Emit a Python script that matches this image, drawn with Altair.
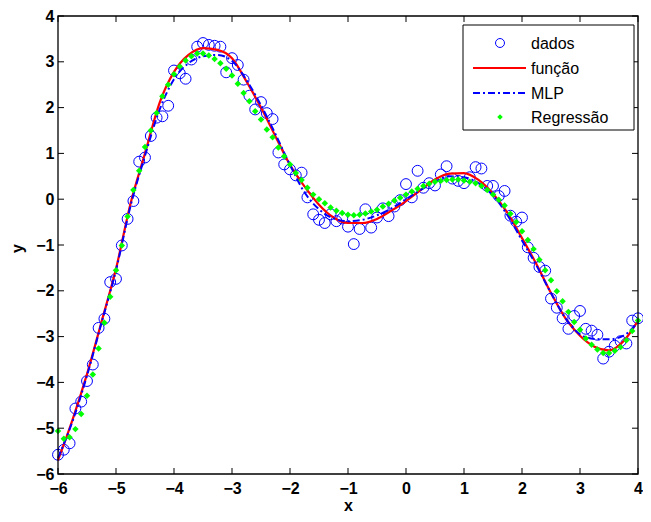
import altair as alt
import pandas as pd

# ---------------- data ----------------
x_grid = [round(-6 + 0.1 * i, 1) for i in range(101)]

y_dados = [
    -5.58, -5.47, -5.33, -4.57, -4.42, -3.97, -3.61, -2.81, -2.61, -1.81,
    -1.74, -1.01, -0.43, -0.04, 0.82, 0.91, 1.38, 1.78, 1.81, 2.04,
    2.81, 2.75, 2.63, 3.05, 3.33, 3.41, 3.37, 3.35, 3.33, 2.77,
    3.08, 2.93, 2.61, 2.26, 1.96, 2.12, 1.88, 1.75, 1.02, 0.76,
    0.65, 0.52, 0.58, 0.04, -0.33, -0.45, -0.52, -0.33, -0.48, -0.42,
    -0.60, -0.98, -0.65, -0.22, -0.62, -0.40, -0.20, -0.37, -0.16, -0.02,
    0.33, 0.04, 0.62, 0.25, 0.35, 0.30, 0.54, 0.72, 0.45, 0.40,
    0.35, 0.48, 0.70, 0.67, 0.29, 0.29, 0.07, 0.18, -0.36, -0.49,
    -0.40, -1.05, -1.28, -1.48, -1.56, -2.17, -2.37, -2.60, -2.83, -2.55,
    -2.44, -2.83, -2.87, -2.96, -3.48, -3.33, -3.20, -3.10, -3.15, -2.65,
    -2.60,
]

y_regressao = [
    -5.06, -5.23, -5.20, -5.02, -4.69, -4.29, -3.83, -3.26, -2.70, -2.13,
    -1.55, -1.01, -0.38, 0.20, 0.62, 1.14, 1.50, 1.88, 2.25, 2.50,
    2.73, 2.90, 3.03, 3.12, 3.18, 3.18, 3.14, 3.06, 2.97, 2.85,
    2.70, 2.52, 2.32, 2.14, 1.92, 1.74, 1.52, 1.35, 1.13, 0.94,
    0.76, 0.57, 0.42, 0.25, 0.10, 0.00, -0.09, -0.18, -0.25, -0.30,
    -0.34, -0.35, -0.34, -0.31, -0.27, -0.23, -0.16, -0.10, -0.03, 0.03,
    0.10, 0.17, 0.23, 0.29, 0.34, 0.38, 0.40, 0.42, 0.43, 0.43,
    0.41, 0.38, 0.35, 0.29, 0.20, 0.10, -0.01, -0.14, -0.32, -0.50,
    -0.70, -0.89, -1.09, -1.32, -1.55, -1.77, -2.01, -2.23, -2.46, -2.68,
    -2.85, -3.04, -3.18, -3.28, -3.36, -3.36, -3.31, -3.23, -3.08, -2.88,
    -2.65,
]

x_curve = [
    -6.0, -5.75, -5.5, -5.25, -5.0, -4.75, -4.5, -4.25, -4.0, -3.75,
    -3.5, -3.25, -3.0, -2.75, -2.5, -2.25, -2.0, -1.75, -1.5, -1.25,
    -1.0, -0.75, -0.5, -0.25, 0.0, 0.25, 0.5, 0.75, 1.0, 1.25,
    1.5, 1.75, 2.0, 2.25, 2.5, 2.75, 3.0, 3.25, 3.5, 3.75,
    4.0,
]

y_funcao = [
    -5.70, -4.82, -3.82, -2.68, -1.52, -0.10, 1.00, 2.10, 2.78, 3.15,
    3.30, 3.26, 3.08, 2.57, 2.00, 1.37, 0.75, 0.28, -0.12, -0.40,
    -0.52, -0.52, -0.43, -0.25, -0.04, 0.20, 0.43, 0.56, 0.57, 0.42,
    0.12, -0.30, -0.85, -1.42, -2.05, -2.60, -2.98, -3.22, -3.30, -3.10,
    -2.65,
]

y_mlp = [
    -5.65, -4.85, -3.85, -2.70, -1.55, -0.15, 0.95, 1.95, 2.62, 2.97,
    3.12, 3.15, 3.02, 2.60, 2.05, 1.42, 0.75, 0.15, -0.22, -0.42,
    -0.48, -0.45, -0.35, -0.20, 0.00, 0.20, 0.38, 0.50, 0.48, 0.35,
    0.08, -0.35, -0.90, -1.45, -2.05, -2.60, -2.95, -3.05, -3.06, -2.98,
    -2.68,
]

tick_values = [-6, -5, -4, -3, -2, -1, 0, 1, 2, 3, 4]
legend_labels = ["dados", "função", "MLP", "Regressão"]

# ---------------- layout ----------------
W, H = 580, 458
FONT = "Liberation Sans"
BLUE = "#0000ff"
RED = "#ff0000"
GREEN = "#00ff00"

xs = alt.Scale(domain=[-6, 4], nice=False, zero=False)
ys = alt.Scale(domain=[-6, 4], nice=False, zero=False)

x_axis = alt.Axis(values=tick_values, format="d", title="x", grid=False, ticks=False, tickSize=0,
                  domain=False, labelFont=FONT, labelFontSize=16, labelFontWeight="bold",
                  labelColor="black", labelPadding=6, titleFont=FONT, titleFontSize=16,
                  titleFontWeight="bold", titleColor="black", titleBaseline="middle",
                  titleY=31, labelFlush=False)
y_axis = alt.Axis(values=tick_values, format="d", title="y", grid=False, ticks=False, tickSize=0,
                  domain=False, labelFont=FONT, labelFontSize=16, labelFontWeight="bold",
                  labelColor="black", labelPadding=4, titleFont=FONT, titleFontSize=16,
                  titleFontWeight="bold", titleColor="black", titleBaseline="middle",
                  titleX=-41, titleY=H / 2 + 3, titleAngle=-90, labelFlush=False)

df_dados = pd.DataFrame({"x": x_grid, "y": y_dados})
df_reg = pd.DataFrame({"x": x_grid, "y": y_regressao})
df_fun = pd.DataFrame({"x": x_curve, "y": y_funcao})
df_mlp = pd.DataFrame({"x": x_curve, "y": y_mlp})
df_ticks = pd.DataFrame({"v": tick_values})
one = pd.DataFrame({"k": [0]})

dados = alt.Chart(df_dados).mark_point(
    shape="circle", filled=False, size=118, stroke=BLUE, strokeWidth=1, opacity=1
).encode(
    x=alt.X("x:Q", scale=xs, axis=x_axis),
    y=alt.Y("y:Q", scale=ys, axis=y_axis),
)

funcao = alt.Chart(df_fun).mark_line(color=RED, strokeWidth=2.2, interpolate="monotone").encode(
    x=alt.X("x:Q", scale=xs), y=alt.Y("y:Q", scale=ys)
)

mlp = alt.Chart(df_mlp).mark_line(
    color=BLUE, strokeWidth=2, strokeDash=[7, 3, 2, 3], interpolate="monotone"
).encode(x=alt.X("x:Q", scale=xs), y=alt.Y("y:Q", scale=ys))

reg = alt.Chart(df_reg).mark_point(
    shape="diamond", filled=True, size=42, color=GREEN, opacity=1
).encode(x=alt.X("x:Q", scale=xs), y=alt.Y("y:Q", scale=ys))

TL = 6
ticks_bottom = alt.Chart(df_ticks).mark_rule(color="black", strokeWidth=1).encode(
    x=alt.X("v:Q", scale=xs), y=alt.value(H), y2=alt.value(H - TL))
ticks_top = alt.Chart(df_ticks).mark_rule(color="black", strokeWidth=1).encode(
    x=alt.X("v:Q", scale=xs), y=alt.value(0), y2=alt.value(TL))
ticks_left = alt.Chart(df_ticks).mark_rule(color="black", strokeWidth=1).encode(
    y=alt.Y("v:Q", scale=ys), x=alt.value(0), x2=alt.value(TL))
ticks_right = alt.Chart(df_ticks).mark_rule(color="black", strokeWidth=1).encode(
    y=alt.Y("v:Q", scale=ys), x=alt.value(W), x2=alt.value(W - TL))

box = alt.Chart(one).mark_rect(fillOpacity=0, stroke="black", strokeWidth=1.3).encode(
    x=alt.value(0), x2=alt.value(W), y=alt.value(0), y2=alt.value(H))

# ---------------- legend (drawn by hand) ----------------
LX1 = W - 4
LX0 = LX1 - 171
LY0, LY1 = 9, 114
rows = [27, 52, 77, 101]
legend_box = alt.Chart(one).mark_rect(fill="white", stroke="black", strokeWidth=1).encode(
    x=alt.value(LX0), x2=alt.value(LX1), y=alt.value(LY0), y2=alt.value(LY1))

leg_layers = [legend_box]
for lab, yy in zip(legend_labels, rows):
    leg_layers.append(
        alt.Chart(one).mark_text(align="left", baseline="middle", font=FONT, fontSize=16,
                                 color="black").encode(
            x=alt.value(LX0 + 68), y=alt.value(yy + 1), text=alt.value(lab)))

leg_layers.append(alt.Chart(one).mark_point(shape="circle", filled=False, size=80,
                                            stroke=BLUE, strokeWidth=1, opacity=1).encode(
    x=alt.value(LX0 + 37), y=alt.value(rows[0])))
leg_layers.append(alt.Chart(one).mark_rule(color=RED, strokeWidth=2).encode(
    x=alt.value(LX0 + 10), x2=alt.value(LX0 + 63), y=alt.value(rows[1])))
leg_layers.append(alt.Chart(one).mark_rule(color=BLUE, strokeWidth=2,
                                           strokeDash=[7, 3, 2, 3]).encode(
    x=alt.value(LX0 + 10), x2=alt.value(LX0 + 63), y=alt.value(rows[2])))
leg_layers.append(alt.Chart(one).mark_point(shape="diamond", filled=True, size=30,
                                            color=GREEN, opacity=1).encode(
    x=alt.value(LX0 + 37), y=alt.value(rows[3])))

chart = alt.layer(
    dados, funcao, mlp, reg, box, ticks_bottom, ticks_top, ticks_left, ticks_right,
    *leg_layers
).properties(
    width=W, height=H,
    padding={"left": 50, "top": 8, "right": 5, "bottom": 40},
    autosize=alt.AutoSizeParams(type="none"),
    background="white",
).configure_view(stroke=None)

chart.save("out.html", embed_options={"renderer": "svg", "actions": False})
